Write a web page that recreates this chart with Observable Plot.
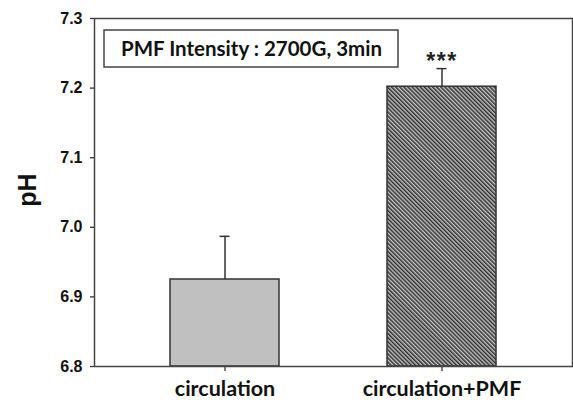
<!DOCTYPE html>
<html><head><meta charset="utf-8">
<script src="https://cdn.jsdelivr.net/npm/d3@7"></script>
<script src="https://cdn.jsdelivr.net/npm/@observablehq/plot@0.6"></script>
<style>body{margin:0;background:#fff;overflow:hidden}</style>
</head><body><div id="chart"></div>
<script>
const categories = ["circulation", "circulation+PMF"];
const phMeans = [6.925, 7.202];
const phErrors = [0.062, 0.026];
const significance = ["", "***"];
const yTicks = [6.8, 6.9, 7.0, 7.1, 7.2, 7.3];
const legendLabel = ["PMF Intensity : 2700G, 3min"];
const yLabel = "pH";
const barFills = ["#c0c0c0", "url(#hatch)"];

const data = categories.map((c, i) => ({
  cat: c, mean: phMeans[i], top: phMeans[i] + phErrors[i],
  sig: significance[i], fill: barFills[i]
}));

const defsMark = () => {
  const g = d3.create("svg:defs");
  const p = g.append("pattern").attr("id", "hatch")
    .attr("patternUnits", "userSpaceOnUse")
    .attr("width", 2.9).attr("height", 10)
    .attr("patternTransform", "rotate(-45)");
  p.append("rect").attr("width", 2.9).attr("height", 10).attr("fill", "#c8c8c8");
  p.append("rect").attr("width", 1.5).attr("height", 10).attr("fill", "#2e2e2e");
  return g.node();
};

const legendBox = () => {
  const g = d3.create("svg:rect")
    .attr("x", 104).attr("y", 30).attr("width", 294).attr("height", 37)
    .attr("fill", "white").attr("stroke", "#444").attr("stroke-width", 1.5);
  return g.node();
};

const chart = Plot.plot({
  width: 573, height: 404,
  marginLeft: 94, marginRight: 1, marginTop: 18, marginBottom: 38,
  style: {fontFamily: "'Liberation Sans', Arial, sans-serif", background: "#fff"},
  x: {domain: categories, paddingInner: 0.5, paddingOuter: 0.35, label: null, tickSize: 5, tickPadding: 9},
  y: {domain: [6.8, 7.3], ticks: yTicks, tickFormat: d3.format(".1f"), label: null, tickSize: 4, tickPadding: 8},
  marks: [
    defsMark,
    Plot.barY(data, {x: "cat", y1: 6.8, y2: "mean", fill: "fill", stroke: "#333", strokeWidth: 1.5}),
    Plot.ruleX(data, {x: "cat", y1: "mean", y2: "top", stroke: "#333", strokeWidth: 1.5}),
    Plot.tickY(data, {x: "cat", y: "top", stroke: "#333", strokeWidth: 1.5, insetLeft: 49.5, insetRight: 49.5}),
    Plot.text(data, {x: "cat", y: "top", text: "sig", lineAnchor: "bottom", dy: 0, fontSize: 23, fontWeight: "bold", fill: "#222", className: "sig-text"}),
    Plot.frame({stroke: "#444", strokeWidth: 1.5}),
    legendBox,
    Plot.text(legendLabel, {frameAnchor: "top-left", text: d => d, textAnchor: "middle", lineAnchor: "middle", dx: 157, dy: 31, fontSize: 20.5, fontWeight: "bold", fontFamily: "Lato, sans-serif", fill: "#111"})
  ]
});
document.getElementById("chart").appendChild(chart);

const svg = d3.select(chart);
svg.selectAll(".sig-text text").attr("letter-spacing", 1.5);
svg.selectAll("[aria-label='y-axis tick label'] text").attr("font-size", 16).attr("font-weight", "bold").attr("fill", "#111");
svg.selectAll("[aria-label='x-axis tick label'] text").attr("font-size", 21.5).attr("font-weight", "bold").attr("font-family", "Lato, sans-serif").attr("fill", "#111");
svg.selectAll("[aria-label='y-axis tick'], [aria-label='x-axis tick']").attr("stroke", "#333").attr("stroke-width", 1.3);

svg.append("text").attr("transform", "translate(27,190) rotate(-90)")
  .attr("text-anchor", "middle").attr("dominant-baseline", "central")
  .attr("font-size", 25).attr("font-weight", "bold").attr("fill", "#111")
  .text(yLabel);
</script>
</body></html>
